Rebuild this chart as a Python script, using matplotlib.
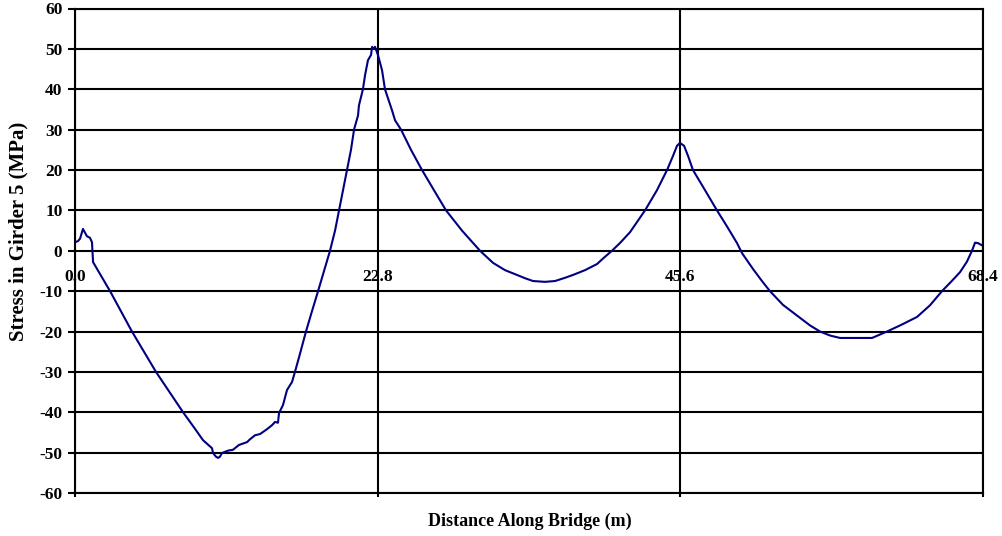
import matplotlib
matplotlib.use("Agg")
import matplotlib.pyplot as plt

# --- donnees ---
distance_m = [
    0.0, 0.23, 0.38, 0.60, 0.75, 0.90, 1.13, 1.28, 1.36, 1.66,
    2.64, 4.29, 6.10, 8.14, 9.04, 9.64, 10.32, 10.40, 10.62, 10.77,
    10.92, 11.07, 11.53, 11.90, 12.35, 12.96, 13.18, 13.56, 13.94, 14.46,
    14.84, 15.07, 15.29, 15.37, 15.67, 15.97, 16.35, 16.57, 16.95, 17.40,
    17.85, 18.31, 18.76, 19.21, 19.59, 19.89, 20.19, 20.49, 20.79, 21.02,
    21.32, 21.39, 21.69, 21.85, 22.07, 22.30, 22.38, 22.45, 22.60, 22.83,
    23.13, 23.35, 23.88, 24.11, 24.56, 25.31, 26.14, 27.04, 27.95, 29.15,
    30.51, 31.49, 32.39, 33.30, 33.90, 34.50, 35.40, 36.16, 36.91, 37.51,
    38.42, 39.32, 39.92, 40.45, 41.05, 41.81, 42.94, 43.84, 44.60, 45.05,
    45.35, 45.57, 45.88, 46.18, 46.55, 47.46, 48.36, 49.12, 49.87, 50.25,
    51.07, 51.75, 52.35, 53.33, 54.61, 55.37, 56.12, 56.88, 57.63, 58.76,
    60.04, 61.17, 62.15, 63.43, 64.41, 65.31, 65.99, 66.67, 67.19, 67.57,
    67.80, 68.02, 68.40,
]
stress_mpa = [
    2.1, 2.4, 3.0, 5.4, 4.5, 3.6, 3.2, 2.1, -2.8, -4.5,
    -10.0, -20.0, -30.0, -40.0, -44.1, -46.9, -48.9, -50.1, -51.0, -51.3,
    -51.0, -50.1, -49.5, -49.3, -48.1, -47.4, -46.7, -45.7, -45.4, -44.2,
    -43.2, -42.4, -42.6, -40.2, -38.2, -34.5, -32.5, -30.0, -25.5, -20.0,
    -15.0, -10.0, -5.0, 0.0, 5.0, 10.0, 15.0, 20.0, 25.0, 30.0,
    33.5, 36.0, 40.0, 43.5, 47.2, 48.5, 50.5, 50.0, 50.5, 48.4,
    44.7, 40.0, 34.8, 32.3, 30.0, 25.0, 20.0, 15.0, 10.0, 5.0,
    0.0, -3.0, -4.8, -6.0, -6.8, -7.5, -7.7, -7.5, -6.7, -6.0,
    -4.8, -3.3, -1.5, 0.0, 1.9, 4.6, 10.0, 15.0, 20.0, 23.5,
    26.0, 26.7, 26.0, 23.5, 20.0, 15.0, 10.0, 6.0, 1.9, -0.6,
    -4.5, -7.5, -10.0, -13.4, -16.6, -18.5, -20.0, -21.0, -21.6, -21.6,
    -21.6, -20.0, -18.5, -16.4, -13.5, -10.0, -7.7, -5.3, -2.7, 0.0,
    2.0, 1.9, 1.2,
]
x_ticks = [0.0, 22.8, 45.6, 68.4]
x_tick_labels = ["0.0", "22.8", "45.6", "68.4"]
y_ticks = list(range(-60, 61, 10))

plt.rcParams["font.family"] = ["Liberation Serif", "DejaVu Serif"]
plt.rcParams["font.weight"] = "bold"

fig = plt.figure(figsize=(10.02, 5.36), dpi=100)
ax = fig.add_axes([75 / 1002, 1 - 493 / 536, 908 / 1002, 484.5 / 536])

ax.plot(distance_m, stress_mpa, color="#000080", linewidth=1.5)

ax.set_xlim(0, 68.4)
ax.set_ylim(-60, 60)
ax.set_yticks(y_ticks)
ax.set_yticklabels([str(v) for v in y_ticks], fontsize=12.5, fontweight="bold")
ax.set_xticks(x_ticks)
ax.set_xticklabels([])
ax.tick_params(axis="y", direction="out", length=5, width=1.5, pad=4)
ax.tick_params(axis="x", direction="out", length=3, width=1.5)
ax.grid(True, color="black", linewidth=1.5)
for sp in ax.spines.values():
    sp.set_linewidth(1.5)
    sp.set_color("black")

# etiquettes de l'axe x posees sur la ligne du zero
for xv, lab in zip(x_ticks, x_tick_labels):
    ax.annotate(lab, (xv, 0), textcoords="offset points", xytext=(0, -19),
                ha="center", va="center", fontsize=12.5, fontweight="bold",
                annotation_clip=False)

fig.text(18 / 1002, 1 - 231 / 536, "Stress in Girder 5 (MPa)", rotation=90,
         ha="center", va="center", fontsize=15, fontweight="bold")
fig.text(530 / 1002, 1 - 521 / 536, "Distance Along Bridge (m)",
         ha="center", va="center", fontsize=13, fontweight="bold")

fig.savefig("out.png", dpi=100)
